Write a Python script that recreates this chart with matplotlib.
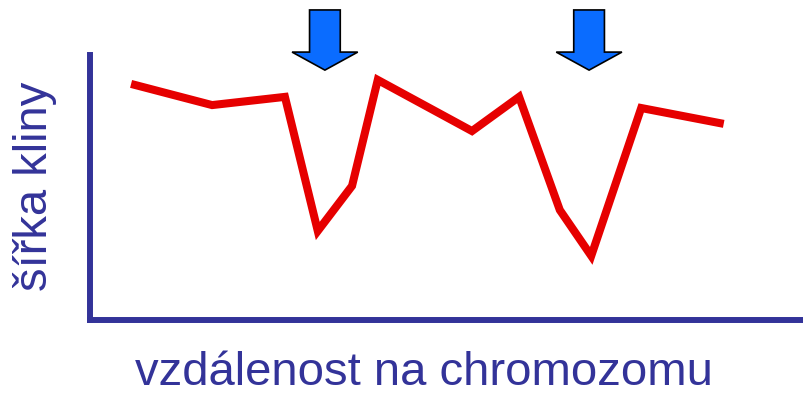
import matplotlib.pyplot as plt

# position along the chromosome vs. width of the cline
position = [6.3, 17.1, 27.3, 31.9, 36.7, 40.3, 53.5, 60.1, 65.8, 70.2, 77.2, 88.2]
cline_width = [88.7, 81.1, 84.2, 33.6, 50.6, 90.6, 71.3, 84.2, 41.5, 24.2, 80.0, 74.3]

# dips marked with arrows
marked = [32.9, 69.9]

navy = "#333399"
red = "#e60000"

plt.rcParams['font.family'] = ['Liberation Sans', 'DejaVu Sans']

fig = plt.figure(figsize=(8.04, 3.93), dpi=100)
ax = fig.add_axes([90/804, 73/393, 714/804, 265/393])
ax.set_xlim(0, 100)
ax.set_ylim(0, 100)

ax.plot(position, cline_width, color=red, lw=5.8, solid_joinstyle='miter')

for x in marked:
    ax.arrow(x, 117, 0, -22.7, width=4.3, head_width=9.2, head_length=6.8,
             length_includes_head=True, fc="#0a6cff", ec="black", lw=1.2,
             clip_on=False, zorder=5)

for side in ['top', 'right']:
    ax.spines[side].set_visible(False)
for side in ['left', 'bottom']:
    ax.spines[side].set_color(navy)
    ax.spines[side].set_linewidth(4.3)
    ax.spines[side].set_capstyle('projecting')
ax.set_xticks([])
ax.set_yticks([])

fig.text(424/804, 1 - 385/393, "vzdálenost na chromozomu", color=navy,
         fontsize=34, ha='center', va='baseline')
fig.text(47/804, 1 - 186/393, "šířka kliny", color=navy, fontsize=34,
         rotation=90, rotation_mode='anchor', ha='center', va='baseline')

fig.savefig("out.png", dpi=100)
